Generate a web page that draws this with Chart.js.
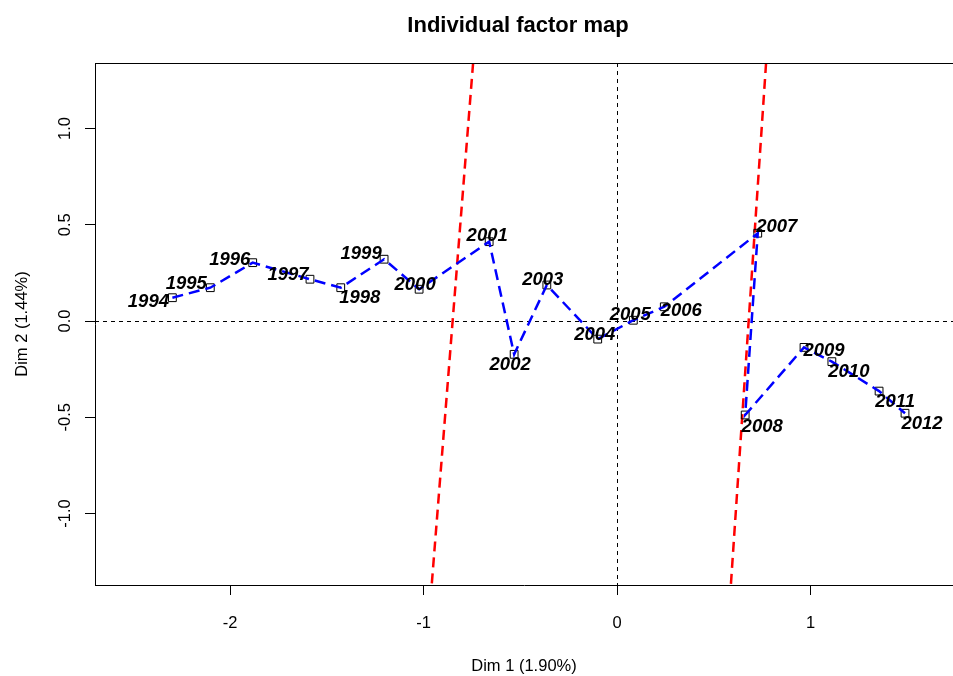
<!DOCTYPE html>
<html>
<head>
<meta charset="utf-8">
<script src="https://cdn.jsdelivr.net/npm/chart.js@4.4.1/dist/chart.umd.min.js"></script>
<style>
  html, body { margin: 0; padding: 0; background: #fff; }
</style>
</head>
<body>
<canvas id="factorMap" width="953" height="676"></canvas>
<script>
// individuals (years) and their coordinates on dim 1 / dim 2
const years = ['1994', '1995', '1996', '1997', '1998', '1999', '2000', '2001', '2002', '2003',
               '2004', '2005', '2006', '2007', '2008', '2009', '2010', '2011', '2012']
const dim1 = [-2.298, -2.102, -1.883, -1.587, -1.428, -1.204, -1.023, -0.661, -0.532, -0.363,
              -0.100, 0.084, 0.244, 0.727, 0.662, 0.966, 1.110, 1.354, 1.488]
const dim2 = [0.121, 0.173, 0.303, 0.217, 0.173, 0.321, 0.165, 0.412, -0.173, 0.187,
              -0.094, 0.004, 0.074, 0.456, -0.488, -0.137, -0.211, -0.364, -0.479]

// the two red break lines
const breakAX = [-0.744, -0.958]
const breakAY = [1.340, -1.371]
const breakBX = [0.770, 0.588]
const breakBY = [1.340, -1.371]

const xTicks = [-2, -1, 0, 1]
const yTicks = [-1, -0.5, 0, 0.5, 1]
const yTickLabels = ['-1.0', '-0.5', '0.0', '0.5', '1.0']

// where each year label sits relative to its point (px)
const labelOffsets = [[-24, 4], [-24, -4], [-23, -3], [-22, -4], [19, 10], [-23, -5], [-4, -4],
                      [-2, -6], [-4, 11], [-4, -5], [-3, -4], [-3, -5], [17, 4], [19, -6],
                      [17, 12], [20, 4], [17, 10], [16, 11], [17, 11]]

const toPoints = (xs, ys) => xs.map((v, i) => ({ x: v, y: ys[i] }))

const mapExtras = {
    id: 'mapExtras',
    beforeDatasetsDraw(chart) {
        const { ctx, chartArea, scales } = chart
        const x0 = scales.x.getPixelForValue(0)
        const y0 = scales.y.getPixelForValue(0)
        ctx.save()
        ctx.strokeStyle = '#000'
        ctx.lineWidth = 1
        ctx.setLineDash([4, 4])
        ctx.beginPath()
        ctx.moveTo(chartArea.left, Math.round(y0) + 0.5)
        ctx.lineTo(chartArea.right, Math.round(y0) + 0.5)
        ctx.moveTo(Math.round(x0) + 0.5, chartArea.top)
        ctx.lineTo(Math.round(x0) + 0.5, chartArea.bottom)
        ctx.stroke()
        ctx.restore()
    },
    afterDraw(chart) {
        const { ctx, chartArea, scales } = chart
        ctx.save()
        // top edge of the box
        ctx.strokeStyle = '#000'
        ctx.lineWidth = 1
        ctx.beginPath()
        ctx.moveTo(chartArea.left, chartArea.top + 0.5)
        ctx.lineTo(chartArea.right, chartArea.top + 0.5)
        ctx.stroke()

        // title
        ctx.fillStyle = '#000'
        ctx.textAlign = 'center'
        ctx.textBaseline = 'middle'
        ctx.font = 'bold 22px "Liberation Sans", Arial, sans-serif'
        ctx.fillText('Individual factor map', 518, 25.5)

        // rotated y tick labels
        ctx.font = '16.5px "Liberation Sans", Arial, sans-serif'
        yTicks.forEach((v, i) => {
            ctx.save()
            ctx.translate(65, scales.y.getPixelForValue(v))
            ctx.rotate(-Math.PI / 2)
            ctx.fillText(yTickLabels[i], 0, 0)
            ctx.restore()
        })

        // year labels
        ctx.font = 'italic bold 18.5px "Liberation Sans", Arial, sans-serif'
        years.forEach((yr, i) => {
            const px = scales.x.getPixelForValue(dim1[i]) + labelOffsets[i][0]
            const py = scales.y.getPixelForValue(dim2[i]) + labelOffsets[i][1]
            ctx.fillText(yr, px, py)
        })
        ctx.restore()
    }
}

const config = {
    type: 'scatter',
    data: {
        datasets: [
            {
                label: 'path',
                data: toPoints(dim1, dim2),
                showLine: true,
                borderColor: '#0000ff',
                borderWidth: 2.5,
                borderDash: [11, 6],
                pointRadius: 0,
                fill: false,
                order: 1
            },
            {
                label: 'years',
                data: toPoints(dim1, dim2),
                pointStyle: 'rect',
                pointRadius: 5.5,
                pointBorderColor: '#000',
                pointBorderWidth: 1,
                pointBackgroundColor: 'rgba(0,0,0,0)',
                order: 2
            },
            {
                label: 'break A',
                data: toPoints(breakAX, breakAY),
                showLine: true,
                borderColor: '#ff0000',
                borderWidth: 2.5,
                borderDash: [10, 6],
                pointRadius: 0,
                order: 3
            },
            {
                label: 'break B',
                data: toPoints(breakBX, breakBY),
                showLine: true,
                borderColor: '#ff0000',
                borderWidth: 2.5,
                borderDash: [10, 6],
                pointRadius: 0,
                order: 3
            }
        ]
    },
    options: {
        responsive: false,
        animation: false,
        layout: { autoPadding: false, padding: { top: 63, right: 0, bottom: 0, left: 0 } },
        plugins: {
            legend: { display: false },
            tooltip: { enabled: false },
            title: { display: false }
        },
        scales: {
            x: {
                type: 'linear',
                min: -2.698,
                max: 1.736,
                afterFit: (scale) => {
                    scale.height = 91
                    scale.paddingLeft = 0
                    scale.paddingRight = 0
                },
                afterBuildTicks: (scale) => { scale.ticks = xTicks.map(v => ({ value: v })) },
                grid: { drawOnChartArea: false, drawTicks: true, tickLength: 10, color: '#000' },
                border: { display: true, color: '#000', width: 1 },
                ticks: {
                    color: '#000',
                    padding: 19,
                    font: { family: '"Liberation Sans", Arial, sans-serif', size: 16.5 },
                    callback: (v) => String(v)
                },
                title: {
                    display: true,
                    text: 'Dim 1 (1.90%)',
                    color: '#000',
                    padding: { top: 0, bottom: 0 },
                    font: { family: '"Liberation Sans", Arial, sans-serif', size: 16.5 }
                }
            },
            y: {
                type: 'linear',
                min: -1.371,
                max: 1.340,
                afterFit: (scale) => {
                    scale.width = 95
                    scale.paddingTop = 0
                    scale.paddingBottom = 0
                },
                afterBuildTicks: (scale) => { scale.ticks = yTicks.map(v => ({ value: v })) },
                grid: { drawOnChartArea: false, drawTicks: true, tickLength: 10, color: '#000' },
                border: { display: true, color: '#000', width: 1 },
                ticks: { display: false },
                title: {
                    display: true,
                    text: 'Dim 2 (1.44%)',
                    color: '#000',
                    padding: { top: 13, bottom: 0 },
                    font: { family: '"Liberation Sans", Arial, sans-serif', size: 16.5 }
                }
            }
        }
    },
    plugins: [mapExtras]
}

new Chart(document.getElementById('factorMap'), config)
</script>
</body>
</html>
